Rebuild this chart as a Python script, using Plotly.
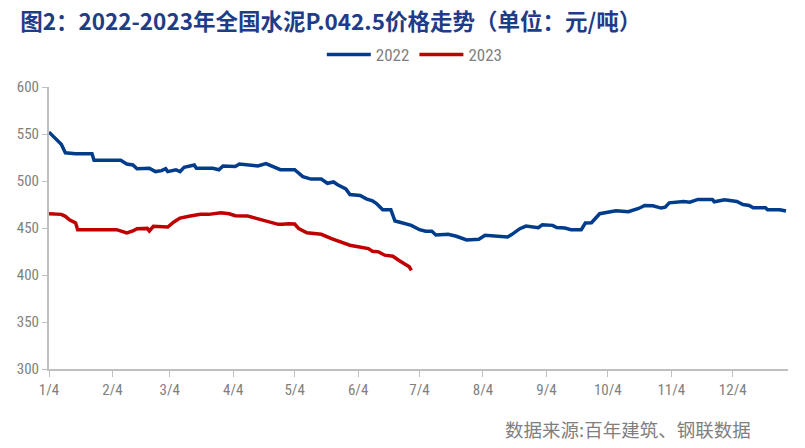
import plotly.graph_objects as go

# 2022 series (month-day, price)
dates_2022 = ["01-04","01-07","01-10","01-12","01-17","01-25","01-26","02-08","02-11","02-14",
              "02-16","02-22","02-25","02-28","03-02","03-03","03-07","03-09","03-11","03-16",
              "03-17","03-25","03-28","03-30","04-05","04-07","04-13","04-16","04-20","04-23",
              "04-27","05-04","05-08","05-12","05-17","05-20","05-23","05-25","05-29","05-31",
              "06-05","06-08","06-11","06-13","06-16","06-20","06-22","06-24","06-27","06-30",
              "07-04","07-07","07-10","07-12","07-18","07-22","07-27","08-02","08-05","08-10",
              "08-16","08-18","08-22","08-25","08-31","09-02","09-07","09-09","09-13","09-16",
              "09-21","09-23","09-26","09-30","10-08","10-14","10-16","10-19","10-22","10-26",
              "10-30","11-01","11-03","11-08","11-10","11-13","11-17","11-24","11-25","11-30",
              "12-06","12-09","12-12","12-14","12-20","12-21","12-27","12-30"]
values_2022 = [552,545,539,530,529,529,522,522,518,517,
               513,513.5,510,511,513,510,512,510,514.5,517,
               513.5,513.5,512,516,515.5,518,517,516,518.6,516,
               512,512,504.7,502,502,497.6,499,496,491.6,485.6,
               484.6,481,479,476,469.4,469.4,457.4,456.4,454.6,452.8,
               448.2,446.5,446.5,442.6,443.3,441.2,437.3,438,442.2,441.5,
               440.5,443,449.3,452.1,450.4,453.5,452.8,450.4,450,448.2,
               448.2,455.3,455.6,465.2,468.4,467.3,468.7,470.8,474,473.6,
               471.2,472.2,476.8,477.5,478.2,477.5,480.4,480.4,477.9,480,
               478.2,475,474,471.5,471.5,469.4,469.4,468]

# 2023 series (month-day, price)
dates_2023 = ["01-04","01-10","01-12","01-14","01-17","01-18","02-06","02-09","02-11","02-14",
              "02-16","02-21","02-22","02-24","02-28","03-03","03-06","03-09","03-14","03-19",
              "03-23","03-29","04-02","04-05","04-11","04-14","04-18","04-22","04-26","04-28",
              "05-01","05-04","05-06","05-10","05-17","05-22","05-26","05-31","06-04","06-09",
              "06-11","06-14","06-17","06-21","06-24","06-27","06-29","06-30"]
values_2023 = [465.2,464.5,462.4,458.8,455.3,448.2,448.2,445.8,444.7,446.8,
               449.3,449.6,446.8,451.8,451.8,451,456.4,460.6,462.8,464.5,
               464.5,466.3,465.2,463.1,462.8,461,458.8,456.4,453.9,453.9,
               454.6,454.2,449.3,445,443.3,438.7,435.9,431.7,430,428.1,
               425.3,424.6,421.1,420,415.5,411.2,408.7,405]

tick_dates = ["01-04","02-04","03-04","04-04","05-04","06-04","07-04","08-04","09-04","10-04","11-04","12-04"]
tick_labels = ["1/4","2/4","3/4","4/4","5/4","6/4","7/4","8/4","9/4","10/4","11/4","12/4"]
y_ticks = [300, 350, 400, 450, 500, 550, 600]

title_text = "图2：2022-2023年全国水泥P.042.5价格走势（单位：元/吨）"
source_text = "数据来源:百年建筑、钢联数据"

def full(md):
    return ["2022-" + d for d in md]

GRAY = "#7f7f7f"
AXIS = "#bfbfbf"
NUM_FONT = "Liberation Sans Narrow, Roboto Condensed, Liberation Sans, Arial"

fig = go.Figure()
fig.add_trace(go.Scatter(x=full(dates_2022), y=values_2022, name="2022", mode="lines",
                         line=dict(color="#003C8C", width=3.5)))
fig.add_trace(go.Scatter(x=full(dates_2023), y=values_2023, name="2023", mode="lines",
                         line=dict(color="#C00000", width=3.5)))

fig.update_layout(
    width=805, height=448,
    margin=dict(l=49, r=17, t=87, b=79),
    paper_bgcolor="white", plot_bgcolor="white",
    showlegend=True,
    legend=dict(orientation="h", x=0.495, xanchor="center", y=1.05, yanchor="bottom",
                font=dict(family=NUM_FONT, size=17, color=GRAY),
                itemwidth=44, bgcolor="rgba(0,0,0,0)"),
    title=dict(text="<b>" + title_text + "</b>", x=0.025, xanchor="left", y=0.95, yanchor="middle",
               xref="container",
               font=dict(family="Noto Sans CJK SC", size=22.5, color="#1F3C88")),
    xaxis=dict(type="date", range=["2022-01-04", "2022-12-31"],
               tickvals=full(tick_dates), ticktext=tick_labels,
               showgrid=False, zeroline=False,
               showline=True, linecolor=AXIS, linewidth=2,
               ticks="outside", ticklen=6, tickcolor=AXIS, tickwidth=1,
               tickfont=dict(family=NUM_FONT, size=15, color=GRAY)),
    yaxis=dict(range=[300, 600], tickvals=y_ticks,
               showgrid=False, zeroline=False,
               showline=True, linecolor=AXIS, linewidth=2,
               ticks="outside", ticklen=5, tickcolor=AXIS, tickwidth=1,
               tickfont=dict(family=NUM_FONT, size=15, color=GRAY)),
    annotations=[dict(text=source_text, xref="paper", yref="paper", x=0.953, y=-0.212,
                      xanchor="right", yanchor="middle", showarrow=False,
                      font=dict(family="Noto Sans CJK SC", size=18.5, color=GRAY))],
)

fig.write_html("out.html")
